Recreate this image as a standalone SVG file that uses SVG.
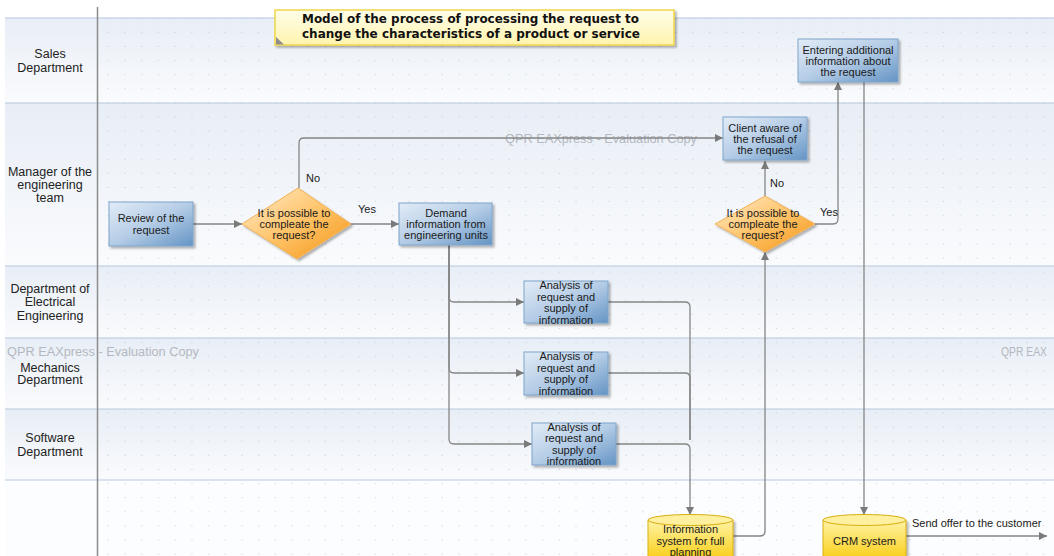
<svg xmlns="http://www.w3.org/2000/svg" width="1054" height="556" viewBox="0 0 1054 556">
  <defs>
    <linearGradient id="laneFill" x1="0" y1="0" x2="0" y2="1">
      <stop offset="0" stop-color="#e8eef6"/>
      <stop offset="1" stop-color="#fafbfd"/>
    </linearGradient>
    <linearGradient id="taskFill" x1="0" y1="0" x2="1" y2="1">
      <stop offset="0" stop-color="#e2ecf7"/>
      <stop offset="0.5" stop-color="#b4cce6"/>
      <stop offset="1" stop-color="#6494c4"/>
    </linearGradient>
    <linearGradient id="gateFill" x1="0" y1="0" x2="1" y2="1">
      <stop offset="0" stop-color="#ffeccc"/>
      <stop offset="0.5" stop-color="#ffc46a"/>
      <stop offset="1" stop-color="#f39414"/>
    </linearGradient>
    <linearGradient id="storeFill" x1="0" y1="0" x2="0" y2="1">
      <stop offset="0" stop-color="#fff3a6"/>
      <stop offset="1" stop-color="#f8c800"/>
    </linearGradient>
    <linearGradient id="noteFill" x1="0" y1="0" x2="0" y2="1">
      <stop offset="0" stop-color="#fffdea"/>
      <stop offset="1" stop-color="#fff4ae"/>
    </linearGradient>
    <pattern id="dots" patternUnits="userSpaceOnUse" width="16.7" height="14.1">
      <circle cx="8.1" cy="4.1" r="0.6" fill="#bcc6d4"/>
    </pattern>
    <filter id="shadow" x="-10%" y="-10%" width="130%" height="140%">
      <feDropShadow dx="2" dy="2" stdDeviation="1.2" flood-color="#000" flood-opacity="0.3"/>
    </filter>
    <marker id="arrow" markerUnits="userSpaceOnUse" markerWidth="9" markerHeight="9" refX="8" refY="4" orient="auto">
      <path d="M0,0 L8,4 L0,8 z" fill="#7a7a7a"/>
    </marker>
    <style>
      .lane { fill: url(#laneFill); }
      .laneLine { stroke: #b6c7dc; stroke-width: 1.2; fill: none; }
      .laneLabel { font-family: "Liberation Sans", Arial, sans-serif; font-size: 12.5px; fill: #222; text-anchor: middle; }
      .task rect { fill: url(#taskFill); stroke: #7fa4ca; stroke-width: 1; filter: url(#shadow); }
      .gate polygon { fill: url(#gateFill); stroke: #f2b055; stroke-width: 1; filter: url(#shadow); }
      .store path { fill: url(#storeFill); stroke: #d9ae10; stroke-width: 1; }
      .store .body { filter: url(#shadow); }
      .store ellipse { fill: #fff0a0; stroke: #d9ae10; stroke-width: 1; }
      .label { font-family: "Liberation Sans", Arial, sans-serif; font-size: 11px; fill: #1a1a1a; text-anchor: middle; }
      .flowLabel { font-family: "Liberation Sans", Arial, sans-serif; font-size: 11px; fill: #1a1a1a; }
      .conn path { stroke: #858585; stroke-width: 1.3; fill: none; }
      .arrowed { marker-end: url(#arrow); }
      .watermark { font-family: "Liberation Sans", Arial, sans-serif; font-size: 12.5px; fill: #b4b8c0; }
      .title { font-family: "DejaVu Sans", Verdana, sans-serif; font-weight: bold; font-size: 12px; fill: #111; }
    </style>
  </defs>

  <!-- page -->
  <rect x="0" y="0" width="1054" height="556" fill="#ffffff"/>

  <!-- swimlanes -->
  <g id="lanes">
    <rect class="lane" x="5" y="18" width="1049" height="85"/>
    <rect class="lane" x="5" y="103" width="1049" height="163"/>
    <rect class="lane" x="5" y="266" width="1049" height="72"/>
    <rect class="lane" x="5" y="338" width="1049" height="71"/>
    <rect class="lane" x="5" y="409" width="1049" height="71"/>
    <rect x="5" y="480" width="1049" height="76" fill="#fcfdfe"/>
    <rect x="98" y="18" width="956" height="538" fill="url(#dots)"/>
    <path class="laneLine" d="M5,18 H1054 M5,103 H1054 M5,266 H1054 M5,338 H1054 M5,409 H1054 M5,480 H1054"/>
  </g>

  <!-- evaluation watermarks -->
  <g id="watermarks">
    <text class="watermark" x="505" y="142.5" textLength="192" lengthAdjust="spacingAndGlyphs">QPR EAXpress - Evaluation Copy</text>
    <text class="watermark" x="7" y="355.5" textLength="192" lengthAdjust="spacingAndGlyphs">QPR EAXpress - Evaluation Copy</text>
    <text class="watermark" x="1001" y="355.5" textLength="46" lengthAdjust="spacingAndGlyphs">QPR EAX</text>
  </g>

  <!-- lane header separator -->
  <line x1="97.5" y1="7" x2="97.5" y2="556" stroke="#8c8c8c" stroke-width="1.5"/>

  <!-- lane labels -->
  <g id="laneLabels">
    <text class="laneLabel" x="50" y="57.5">Sales</text>
    <text class="laneLabel" x="50" y="71.5">Department</text>
    <text class="laneLabel" x="50" y="176">Manager of the</text>
    <text class="laneLabel" x="50" y="189">engineering</text>
    <text class="laneLabel" x="50" y="202">team</text>
    <text class="laneLabel" x="50" y="292.5">Department of</text>
    <text class="laneLabel" x="50" y="306">Electrical</text>
    <text class="laneLabel" x="50" y="319.5">Engineering</text>
    <text class="laneLabel" x="50" y="371.5">Mechanics</text>
    <text class="laneLabel" x="50" y="384">Department</text>
    <text class="laneLabel" x="50" y="441.5">Software</text>
    <text class="laneLabel" x="50" y="455.5">Department</text>
  </g>

  <!-- title note -->
  <g id="title">
    <rect x="275" y="10" width="399" height="35" fill="url(#noteFill)" stroke="#f0d64a" stroke-width="1.5" filter="url(#shadow)"/>
    <polygon points="276,37 284,44.5 276,44.5" fill="#8e8e8e"/>
    <text class="title" x="302" y="22.5" textLength="337" lengthAdjust="spacingAndGlyphs">Model of the process of processing the request to</text>
    <text class="title" x="302" y="37.5" textLength="338" lengthAdjust="spacingAndGlyphs">change the characteristics of a product or service</text>
  </g>

  <!-- connectors -->
  <g id="connectors" class="conn">
    <path class="arrowed" d="M193,224 H242"/>
    <path class="arrowed" d="M299,188 V143 Q299,138 304,138 H723"/>
    <path class="arrowed" d="M351,224 H399"/>
    <path class="arrowed" d="M449,245 V297 Q449,302 454,302 H524"/>
    <path class="arrowed" d="M449,245 V368 Q449,373 454,373 H524"/>
    <path class="arrowed" d="M449,245 V439 Q449,444 454,444 H532"/>
    <path d="M608,302 H685 Q690,302 690,307 V440"/>
    <path d="M608,373 H685 Q690,373 690,378 V440"/>
    <path class="arrowed" d="M616,444 H685 Q690,444 690,449 V515"/>
    <path class="arrowed" d="M733,536 H760 Q765,536 765,531 V252"/>
    <path class="arrowed" d="M765,196 V161"/>
    <path class="arrowed" d="M815,224 H833 Q838,224 838,219 V82"/>
    <path class="arrowed" d="M864,82 V515"/>
    <path class="arrowed" d="M906,536 H1047"/>
  </g>

  <!-- flow labels -->
  <g id="flowLabels">
    <text class="flowLabel" x="306" y="182">No</text>
    <text class="flowLabel" x="358" y="213">Yes</text>
    <text class="flowLabel" x="770" y="187">No</text>
    <text class="flowLabel" x="820" y="216">Yes</text>
    <text class="flowLabel" x="912" y="527">Send offer to the customer</text>
  </g>

  <!-- process nodes -->
  <g id="review" class="task">
    <rect x="109" y="202" width="84" height="44"/>
    <text class="label" x="151" y="222">Review of the</text>
    <text class="label" x="151" y="234">request</text>
  </g>

  <g id="decision-manager" class="gate">
    <polygon points="242,224 298,188 351,224 297,259"/>
    <text class="label" x="294" y="217">It is possible to</text>
    <text class="label" x="294" y="228">compleate the</text>
    <text class="label" x="294" y="239">request?</text>
  </g>

  <g id="demand" class="task">
    <rect x="399" y="203" width="93" height="42"/>
    <text class="label" x="446" y="217">Demand</text>
    <text class="label" x="446" y="228">information from</text>
    <text class="label" x="446" y="239">engineering units</text>
  </g>

  <g id="analysis-electrical" class="task">
    <rect x="524" y="281" width="84" height="42"/>
    <text class="label" x="566" y="289">Analysis of</text>
    <text class="label" x="566" y="300.5">request and</text>
    <text class="label" x="566" y="312">supply of</text>
    <text class="label" x="566" y="323.5">information</text>
  </g>

  <g id="analysis-mechanics" class="task">
    <rect x="524" y="352" width="84" height="43"/>
    <text class="label" x="566" y="360.3">Analysis of</text>
    <text class="label" x="566" y="371.8">request and</text>
    <text class="label" x="566" y="383.3">supply of</text>
    <text class="label" x="566" y="394.8">information</text>
  </g>

  <g id="analysis-software" class="task">
    <rect x="532" y="423" width="84" height="42"/>
    <text class="label" x="574" y="430.8">Analysis of</text>
    <text class="label" x="574" y="442.3">request and</text>
    <text class="label" x="574" y="453.8">supply of</text>
    <text class="label" x="574" y="465.3">information</text>
  </g>

  <g id="client-aware" class="task">
    <rect x="723" y="117" width="84" height="43"/>
    <text class="label" x="765" y="131.5">Client aware of</text>
    <text class="label" x="765" y="142.8">the refusal of</text>
    <text class="label" x="765" y="154">the request</text>
  </g>

  <g id="decision-final" class="gate">
    <polygon points="715,224 765,196 815,224 765,252"/>
    <text class="label" x="763" y="217">It is possible to</text>
    <text class="label" x="763" y="228">compleate the</text>
    <text class="label" x="763" y="239">request?</text>
  </g>

  <g id="entering-info" class="task">
    <rect x="798" y="39" width="100" height="43"/>
    <text class="label" x="848" y="54">Entering additional</text>
    <text class="label" x="848" y="65">information about</text>
    <text class="label" x="848" y="76">the request</text>
  </g>

  <!-- data stores -->
  <g id="planning-system" class="store">
    <path class="body" d="M648,520 V566 H733 V520 Z"/>
    <ellipse cx="690.5" cy="520" rx="42.5" ry="5.5"/>
    <text class="label" x="690.5" y="533">Information</text>
    <text class="label" x="690.5" y="545">system for full</text>
    <text class="label" x="690.5" y="556">planning</text>
  </g>

  <g id="crm-system" class="store">
    <path class="body" d="M823,520 V566 H906 V520 Z"/>
    <ellipse cx="864.5" cy="520" rx="41.5" ry="5.5"/>
    <text class="label" x="864.5" y="545">CRM system</text>
  </g>
</svg>
